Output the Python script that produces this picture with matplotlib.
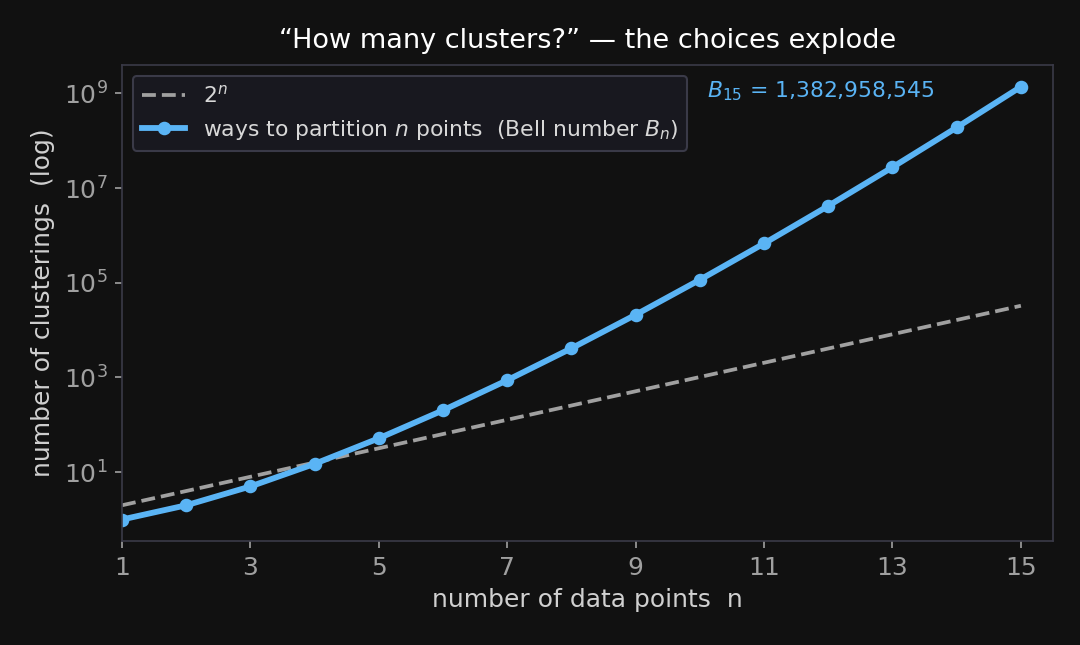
import numpy as np
import matplotlib
matplotlib.use('Agg')
import matplotlib.pyplot as plt

n = np.arange(1, 16)
bell = [1, 2, 5, 15, 52, 203, 877, 4140, 21147, 115975, 678570,
        4213597, 27644437, 190899322, 1382958545]
pow2 = [2 ** k for k in n]

BG = '#111111'
BLUE = '#5ab4f5'
GREY = '#a0a0a0'
SPINE = '#3a3a48'

fig, ax = plt.subplots(figsize=(7.2, 4.3), dpi=150)
fig.patch.set_facecolor(BG)
ax.set_facecolor(BG)

ax.plot(n, pow2, ls='--', color=GREY, lw=1.8, label='$2^n$')
ax.plot(n, bell, '-o', color=BLUE, lw=2.8, ms=5.5,
        label='ways to partition $n$ points  (Bell number $B_n$)')
ax.set_yscale('log')
ax.set_xlim(1, 15.5)
ax.set_xticks(range(1, 16, 2))
ax.set_yticks([1e1, 1e3, 1e5, 1e7, 1e9])
ax.yaxis.set_minor_locator(matplotlib.ticker.NullLocator())

for s in ax.spines.values():
    s.set_color(SPINE)
ax.tick_params(colors=GREY, labelsize=12)

ax.set_xlabel('number of data points  n', color='#d0d0d0', fontsize=12)
ax.set_ylabel('number of clusterings  (log)', color='#d0d0d0', fontsize=12)
ax.set_title('\u201cHow many clusters?\u201d \u2014 the choices explode',
             color='white', fontsize=13, pad=8)

ax.text(0.873, 0.945, f'$B_{{15}}$ = {bell[-1]:,}', transform=ax.transAxes,
        ha='right', va='center', color=BLUE, fontsize=10.5)

leg = ax.legend(loc='upper left', fontsize=10.5, facecolor='#18181f',
                edgecolor=SPINE, framealpha=1.0)
for t in leg.get_texts():
    t.set_color('#d8d8d8')

fig.subplots_adjust(left=0.113, right=0.975, top=0.899, bottom=0.161)
fig.savefig('out.png', dpi=150, facecolor=BG)
